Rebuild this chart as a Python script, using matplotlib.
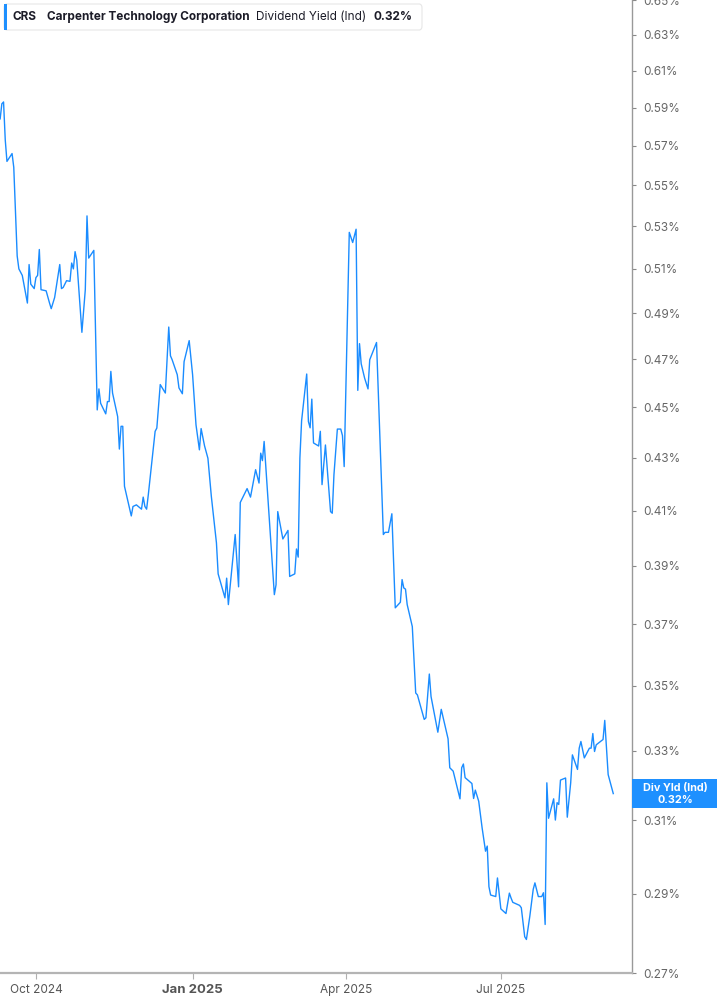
import pandas as pd
import matplotlib
matplotlib.use("Agg")
import matplotlib.pyplot as plt
import matplotlib.ticker as mticker
from matplotlib.patches import FancyBboxPatch, Rectangle

plt.rcParams["font.family"] = ["Inter", "DejaVu Sans"]

# Dividend yield (indicated), in percent
dates = [
    "2024-09-10", "2024-09-11", "2024-09-12", "2024-09-13", "2024-09-14", "2024-09-17", "2024-09-18",
    "2024-09-20", "2024-09-21", "2024-09-23", "2024-09-26", "2024-09-27", "2024-09-28", "2024-09-30",
    "2024-10-01", "2024-10-02", "2024-10-03", "2024-10-04", "2024-10-07", "2024-10-09", "2024-10-10",
    "2024-10-12", "2024-10-15", "2024-10-16", "2024-10-17", "2024-10-19", "2024-10-21", "2024-10-22",
    "2024-10-23", "2024-10-24", "2024-10-25", "2024-10-28", "2024-10-30", "2024-10-31", "2024-11-01",
    "2024-11-04", "2024-11-06", "2024-11-07", "2024-11-08", "2024-11-11", "2024-11-12", "2024-11-13",
    "2024-11-14", "2024-11-15", "2024-11-18", "2024-11-19", "2024-11-20", "2024-11-21", "2024-11-22",
    "2024-11-26", "2024-11-27", "2024-11-29", "2024-12-02", "2024-12-03", "2024-12-04", "2024-12-05",
    "2024-12-06", "2024-12-10", "2024-12-11", "2024-12-13", "2024-12-16", "2024-12-18", "2024-12-19",
    "2024-12-20", "2024-12-23", "2024-12-24", "2024-12-26", "2024-12-27", "2024-12-30", "2025-01-01",
    "2025-01-03", "2025-01-05", "2025-01-06", "2025-01-08", "2025-01-10", "2025-01-12", "2025-01-15",
    "2025-01-16", "2025-01-20", "2025-01-21", "2025-01-22", "2025-01-26", "2025-01-28", "2025-01-29",
    "2025-02-02", "2025-02-04", "2025-02-07", "2025-02-09", "2025-02-10", "2025-02-11", "2025-02-12",
    "2025-02-18", "2025-02-19", "2025-02-20", "2025-02-23", "2025-02-26", "2025-02-27", "2025-03-02",
    "2025-03-03", "2025-03-04", "2025-03-05", "2025-03-06", "2025-03-09", "2025-03-10", "2025-03-11",
    "2025-03-12", "2025-03-13", "2025-03-16", "2025-03-17", "2025-03-18", "2025-03-20", "2025-03-23",
    "2025-03-24", "2025-03-25", "2025-03-27", "2025-03-29", "2025-03-30", "2025-03-31", "2025-04-03",
    "2025-04-05", "2025-04-07", "2025-04-08", "2025-04-09", "2025-04-10", "2025-04-12", "2025-04-14",
    "2025-04-15", "2025-04-19", "2025-04-23", "2025-04-24", "2025-04-26", "2025-04-28", "2025-04-30",
    "2025-05-03", "2025-05-04", "2025-05-05", "2025-05-06", "2025-05-07", "2025-05-10", "2025-05-12",
    "2025-05-13", "2025-05-17", "2025-05-18", "2025-05-20", "2025-05-21", "2025-05-25", "2025-05-27",
    "2025-05-31", "2025-06-01", "2025-06-03", "2025-06-07", "2025-06-08", "2025-06-09", "2025-06-10",
    "2025-06-14", "2025-06-15", "2025-06-16", "2025-06-18", "2025-06-20", "2025-06-22", "2025-06-23",
    "2025-06-24", "2025-06-25", "2025-06-28", "2025-06-29", "2025-07-01", "2025-07-04", "2025-07-06",
    "2025-07-07", "2025-07-08", "2025-07-12", "2025-07-13", "2025-07-15", "2025-07-16", "2025-07-18",
    "2025-07-20", "2025-07-21", "2025-07-23", "2025-07-25", "2025-07-26", "2025-07-27", "2025-07-28",
    "2025-07-29", "2025-08-01", "2025-08-02", "2025-08-03", "2025-08-04", "2025-08-05", "2025-08-08",
    "2025-08-09", "2025-08-11", "2025-08-12", "2025-08-15", "2025-08-16", "2025-08-17", "2025-08-19",
    "2025-08-22", "2025-08-23", "2025-08-24", "2025-08-25", "2025-08-26", "2025-08-30", "2025-08-31",
    "2025-09-02", "2025-09-05",
]
div_yield = [
    0.584, 0.592, 0.593, 0.573, 0.562, 0.566, 0.559,
    0.516, 0.510, 0.507, 0.4945, 0.512, 0.503, 0.501,
    0.506, 0.507, 0.519, 0.5005, 0.500, 0.4945, 0.492,
    0.497, 0.512, 0.501, 0.5015, 0.5046, 0.5043, 0.5127,
    0.510, 0.518, 0.514, 0.4816, 0.5005, 0.535, 0.515,
    0.5186, 0.449, 0.4576, 0.4517, 0.4474, 0.4524, 0.4524,
    0.4649, 0.4559, 0.4463, 0.4334, 0.4424, 0.4424, 0.4191,
    0.408, 0.4115, 0.4121, 0.4105, 0.415, 0.4115, 0.4105,
    0.4159, 0.4404, 0.4417, 0.4594, 0.4559, 0.4839, 0.4715,
    0.4698, 0.4635, 0.458, 0.4556, 0.469, 0.478, 0.4635,
    0.443, 0.4331, 0.4415, 0.4347, 0.4298, 0.4153, 0.3982,
    0.3872, 0.3789, 0.3857, 0.3766, 0.4012, 0.3827, 0.413,
    0.4182, 0.415, 0.4254, 0.4203, 0.4318, 0.4289, 0.4364,
    0.380, 0.3834, 0.4096, 0.3996, 0.4027, 0.3863, 0.3872,
    0.396, 0.3931, 0.4299, 0.4446, 0.4638, 0.4443, 0.4418,
    0.4534, 0.4358, 0.4346, 0.4404, 0.4197, 0.435, 0.4096,
    0.409, 0.4235, 0.4413, 0.4413, 0.4387, 0.4266, 0.5271,
    0.5223, 0.5286, 0.457, 0.4767, 0.4681, 0.4621, 0.4576,
    0.4698, 0.4772, 0.4012, 0.402, 0.402, 0.4088, 0.3755,
    0.3774, 0.3852, 0.3823, 0.3819, 0.3766, 0.3692, 0.3477,
    0.3471, 0.3395, 0.340, 0.3537, 0.3466, 0.3356, 0.3426,
    0.3336, 0.325, 0.324, 0.316, 0.325, 0.3261, 0.3221,
    0.3204, 0.3161, 0.3185, 0.3153, 0.3078, 0.3014, 0.3028,
    0.2919, 0.2897, 0.2893, 0.2942, 0.2861, 0.2849, 0.2902,
    0.2889, 0.2878, 0.287, 0.2864, 0.279, 0.2783, 0.2842,
    0.2912, 0.2929, 0.2893, 0.2893, 0.2903, 0.2821, 0.3206,
    0.3105, 0.316, 0.310, 0.3149, 0.3144, 0.3214, 0.322,
    0.3108, 0.3206, 0.3288, 0.3245, 0.3308, 0.3328, 0.3279,
    0.3308, 0.3308, 0.3352, 0.3298, 0.3318, 0.3334, 0.3392,
    0.323, 0.3175,
]

y_ticks = [0.27, 0.29, 0.31, 0.33, 0.35, 0.37, 0.39, 0.41, 0.43, 0.45,
           0.47, 0.49, 0.51, 0.53, 0.55, 0.57, 0.59, 0.61, 0.63, 0.65]
x_tick_dates = ["2024-10-01", "2025-01-01", "2025-04-01", "2025-07-01"]
x_tick_labels = ["Oct 2024", "Jan 2025", "Apr 2025", "Jul 2025"]

LINE_BLUE = "#1a8cff"
TAG_BLUE = "#1e90ff"
INK = "#1c1c28"

W, H = 717, 1005
fig = plt.figure(figsize=(W / 100, H / 100), dpi=100)
ax = fig.add_axes([0, 1 - 973 / H, 632 / W, 973 / H])

x = pd.to_datetime(dates)
ax.plot(x, div_yield, color=LINE_BLUE, lw=1.0)

ax.set_yscale("log")
ax.set_ylim(0.27, 0.6502)
ax.set_xlim(pd.Timestamp("2024-09-09 22:00"), pd.Timestamp("2025-09-16"))

ax.yaxis.set_major_locator(mticker.FixedLocator(y_ticks))
ax.yaxis.set_minor_locator(mticker.NullLocator())
ax.yaxis.set_major_formatter(mticker.FuncFormatter(lambda v, _: f"{v:.2f}%"))
ax.yaxis.tick_right()
ax.tick_params(axis="y", direction="out", length=3, width=0.8, color="#888888",
               labelsize=8.5, labelcolor="#666666", pad=5)

ax.set_xticks(pd.to_datetime(x_tick_dates))
ax.set_xticklabels(x_tick_labels)
ax.tick_params(axis="x", direction="out", length=4, width=0.8, color="#b0b0b0",
               labelsize=8.5, labelcolor="#555555", pad=4)
ax.get_xticklabels()[1].set_fontweight("bold")
ax.get_xticklabels()[1].set_fontsize(9.5)

for s in ["top", "left"]:
    ax.spines[s].set_visible(False)
ax.spines["right"].set_color("#999999")
ax.spines["right"].set_linewidth(1.0)
ax.spines["bottom"].set_color("#b4b4b4")
ax.spines["bottom"].set_linewidth(1.6)

# header box
fig.patches.append(FancyBboxPatch((4 / W, 1 - 30 / H), 418 / W, 26 / H,
                                  boxstyle="round,pad=0,rounding_size=0.004",
                                  transform=fig.transFigure, facecolor="white",
                                  edgecolor="#e6e6e6", lw=0.8, zorder=5))
fig.patches.append(Rectangle((4 / W, 1 - 30 / H), 3 / W, 26 / H,
                             transform=fig.transFigure, facecolor=TAG_BLUE,
                             edgecolor="none", zorder=6))
hy = 1 - 17 / H
header = [(13, "CRS", "bold"), (47, "Carpenter Technology Corporation", "bold"),
          (256, "Dividend Yield (Ind)", "normal"), (373, "0.32%", "bold")]
for hx, txt, wt in header:
    fig.text(hx / W, hy, txt, fontsize=8.5, fontweight=wt, color=INK,
             va="center", zorder=7)

# last value tag
fig.patches.append(Rectangle((632 / W, 1 - 808 / H), 85 / W, 29 / H,
                             transform=fig.transFigure, facecolor=TAG_BLUE,
                             edgecolor="none", zorder=5))
fig.text(675 / W, 1 - 788 / H, "Div Yld (Ind)", fontsize=7.8, fontweight="bold",
         color="white", ha="center", va="center", zorder=7)
fig.text(675 / W, 1 - 800 / H, "0.32%", fontsize=7.8, fontweight="bold",
         color="white", ha="center", va="center", zorder=7)

fig.savefig("out.png", dpi=100)
